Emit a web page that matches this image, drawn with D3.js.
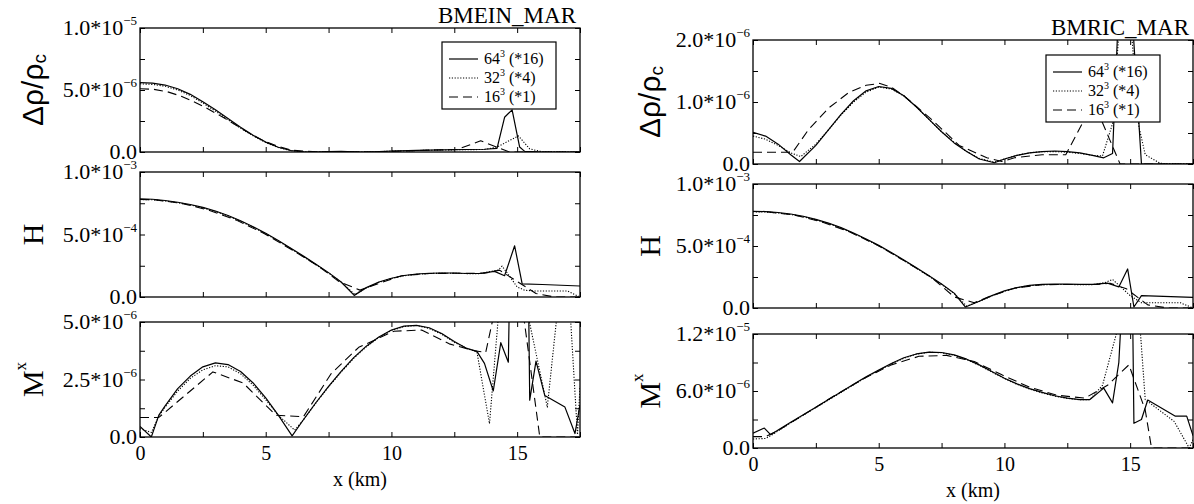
<!DOCTYPE html>
<html><head><meta charset="utf-8">
<script src="https://cdn.jsdelivr.net/npm/d3@7"></script>
<style>body{margin:0;background:#fff}svg{display:block}</style>
</head><body><svg id="c" width="1194" height="504"></svg>
<script>
// ---------------- DATA ----------------
const xDomain = [0, 17.5];
const xTickValues = [0, 5, 10, 15];
const xTickLabels = ["0", "5", "10", "15"];
const xMinorTicks = [0, 2.5, 5, 7.5, 10, 12.5, 15, 17.5];
const figureTitles = ["BMEIN_MAR", "BMRIC_MAR"];
const seriesBase = ["64", "32", "16"];
const seriesSuffix = [" (*16)", " (*4)", " (*1)"];

// y tick labels: [mantissa, exponent]
const drhoTicksL = [["0.0", ""], ["5.0*10", "\u22126"], ["1.0*10", "\u22125"]];
const drhoTickValsL = [0, 5e-6, 1e-5];
const hTicks = [["0.0", ""], ["5.0*10", "\u22124"], ["1.0*10", "\u22123"]];
const hTickVals = [0, 5e-4, 1e-3];
const mxTicksL = [["0.0", ""], ["2.5*10", "\u22126"], ["5.0*10", "\u22126"]];
const mxTickValsL = [0, 2.5e-6, 5e-6];
const drhoTicksR = [["0.0", ""], ["1.0*10", "\u22126"], ["2.0*10", "\u22126"]];
const drhoTickValsR = [0, 1e-6, 2e-6];
const mxTicksR = [["0.0", ""], ["6.0*10", "\u22126"], ["1.2*10", "\u22125"]];
const mxTickValsR = [0, 6e-6, 1.2e-5];

// BMEIN_MAR  drho (units 1e-6)
const bmein_drho_64 = [[0,5.6],[0.5,5.55],[1,5.4],[1.5,5.1],[2,4.65],[2.5,4.05],[3,3.4],[3.5,2.7],[4,2.0],[4.5,1.35],[5,0.8],[5.5,0.38],[6,0.12],[6.5,0.02],[7,0.0],[7.5,0.04],[8,0.05],[8.5,0.01],[9,0.0],[9.5,0.03],[10,0.08],[11,0.13],[12,0.17],[13,0.2],[13.7,0.22],[14.2,0.3],[14.5,2.8],[14.8,3.4],[15.1,0.4],[15.3,0.05],[16,0],[17.5,0]];
const bmein_drho_32 = [[0,5.5],[0.5,5.45],[1,5.3],[1.5,5.0],[2,4.55],[2.5,3.95],[3,3.3],[3.5,2.6],[4,1.92],[4.5,1.3],[5,0.76],[5.5,0.36],[6,0.11],[6.5,0.02],[7,0.0],[7.5,0.03],[8,0.04],[8.5,0.01],[9,0.0],[9.5,0.03],[10,0.07],[11,0.12],[12,0.16],[13,0.19],[13.7,0.2],[14.2,0.4],[15.05,1.3],[15.5,0.25],[16,0.02],[17.5,0]];
const bmein_drho_16 = [[0,5.1],[0.55,5.05],[1.1,4.85],[1.64,4.5],[2.2,4.0],[2.73,3.45],[3.3,2.8],[3.83,2.15],[4.4,1.45],[4.92,0.9],[5.5,0.45],[6.02,0.15],[7.11,0.0],[8.2,0.02],[9.3,0.0],[10.4,0.08],[11.5,0.15],[12.6,0.2],[13.55,0.9],[14.7,0.0],[15.9,0],[17.5,0]];

// BMEIN_MAR  H (units 1e-4)
const bmein_h_64 = [[0,7.85],[0.5,7.82],[1,7.72],[1.5,7.58],[2,7.4],[2.5,7.17],[3,6.88],[3.5,6.52],[4,6.1],[4.5,5.62],[5,5.1],[5.5,4.52],[6,3.9],[6.5,3.27],[7,2.62],[7.5,1.95],[8,1.2],[8.52,0.13],[9,0.75],[9.5,1.2],[10,1.5],[10.5,1.72],[11,1.84],[11.5,1.9],[12,1.92],[12.5,1.92],[13,1.88],[13.5,1.88],[14.1,2.05],[14.5,1.7],[14.9,4.1],[15.2,1.05],[16,1.0],[17.5,0.88]];
const bmein_h_32 = [[0,7.8],[0.5,7.78],[1,7.68],[1.5,7.54],[2,7.36],[2.5,7.13],[3,6.84],[3.5,6.48],[4,6.06],[4.5,5.58],[5,5.06],[5.5,4.48],[6,3.86],[6.5,3.23],[7,2.58],[7.5,1.92],[8,1.18],[8.55,0.2],[9,0.72],[9.5,1.17],[10,1.48],[10.5,1.7],[11,1.82],[11.5,1.88],[12,1.9],[12.5,1.9],[13,1.87],[13.5,1.87],[14.25,2.15],[14.4,2.47],[14.7,1.66],[15.0,0.8],[15.3,0.54],[15.7,0.48],[17.0,0.48],[17.45,0.05]];
const bmein_h_16 = [[0,7.8],[0.55,7.78],[1.64,7.5],[2.73,6.95],[3.83,6.15],[4.92,5.1],[6.02,3.8],[7.11,2.45],[7.9,1.25],[8.75,0.55],[9.3,0.95],[10.4,1.7],[11.5,1.88],[12.6,1.9],[13.7,1.9],[14.3,2.15],[15.75,0.28],[16.5,0],[17.5,0]];

// BMEIN_MAR  Mx (units 1e-6)
const bmein_mx_64 = [[0,0.46],[0.45,0.0],[0.75,0.95],[1,1.35],[1.5,2.1],[2,2.65],[2.5,3.05],[3,3.22],[3.5,3.15],[4,2.85],[4.5,2.35],[5,1.7],[5.5,0.95],[6.05,0.05],[6.5,0.75],[7,1.5],[7.5,2.2],[8,2.85],[8.5,3.45],[9,3.95],[9.5,4.35],[10,4.65],[10.5,4.82],[11,4.85],[11.5,4.75],[12,4.5],[12.5,4.15],[13,3.85],[13.4,3.72],[13.7,3.2],[14.05,2.0],[14.35,4.1],[14.65,3.25],[14.7,6.5],[15.45,6.5],[15.5,1.6],[15.75,3.3],[16.1,1.8],[16.9,1.3],[17.3,0.15],[17.5,1.4]];
const bmein_mx_32 = [[0,0.36],[0.45,0.2],[0.75,0.9],[1,1.3],[1.5,2.0],[2,2.55],[2.5,2.92],[3,3.1],[3.5,3.05],[4,2.75],[4.5,2.25],[5,1.62],[5.5,0.95],[6.15,0.3],[6.5,0.75],[7,1.48],[7.5,2.18],[8,2.82],[8.5,3.42],[9,3.92],[9.5,4.33],[10,4.63],[10.5,4.8],[11,4.85],[11.5,4.72],[12,4.47],[12.5,4.12],[13,3.85],[13.4,3.7],[13.9,0.58],[14.35,6.5],[15.2,6.5],[16.2,1.3],[16.7,6.5],[17.05,6.5],[17.4,0.1],[17.5,2.2]];
const bmein_mx_16 = [[0,0.85],[0.75,0.85],[2.9,2.83],[4.1,2.35],[5.4,0.95],[6.5,0.88],[7.6,2.75],[8.7,3.9],[10.1,4.6],[11.2,4.65],[12.3,4.05],[13.3,3.75],[13.75,3.68],[14.8,9.0],[15.9,0],[17.5,0]];

// BMRIC_MAR  drho (units 1e-6)
const bmric_drho_64 = [[0,0.51],[0.5,0.45],[1,0.32],[1.5,0.15],[1.85,0.04],[2.5,0.3],[3,0.55],[3.5,0.8],[4,1.02],[4.5,1.18],[5,1.25],[5.5,1.22],[6,1.1],[6.5,0.92],[7,0.72],[7.5,0.52],[8,0.34],[8.5,0.2],[9,0.08],[9.6,0.02],[10,0.08],[10.5,0.14],[11,0.18],[11.5,0.2],[12,0.21],[12.5,0.2],[13,0.18],[13.5,0.14],[13.95,0.1],[14.3,0.17],[14.55,2.6],[15.05,2.6],[15.45,0],[17.5,0]];
const bmric_drho_32 = [[0,0.45],[0.5,0.4],[1,0.3],[1.5,0.18],[1.9,0.12],[2.5,0.32],[3,0.55],[3.5,0.79],[4,1.0],[4.5,1.16],[5,1.24],[5.5,1.21],[6,1.1],[6.5,0.92],[7,0.72],[7.5,0.52],[8,0.35],[8.5,0.2],[9,0.09],[9.6,0.03],[10,0.08],[10.5,0.14],[11,0.18],[11.5,0.2],[12,0.2],[12.5,0.19],[13,0.17],[13.5,0.14],[13.9,0.13],[14.3,0.65],[14.6,2.4],[15.0,2.4],[15.35,0.6],[15.6,0.15],[16.2,0.01],[17.5,0]];
const bmric_drho_16 = [[0,0.19],[1.58,0.19],[2.2,0.55],[3.0,0.9],[3.8,1.15],[4.5,1.27],[5.05,1.3],[5.5,1.24],[6.0,1.1],[7.1,0.72],[8.2,0.3],[9.3,0.1],[9.9,0.04],[10.4,0.1],[11.5,0.15],[12.44,0.15],[13.55,1.0],[14.6,0.0],[17.5,0]];

// BMRIC_MAR  H (units 1e-4)
const bmric_h_64 = [[0,7.8],[0.5,7.78],[1,7.7],[1.5,7.58],[2,7.4],[2.5,7.15],[3,6.85],[3.5,6.48],[4,6.05],[4.5,5.57],[5,5.05],[5.5,4.48],[6,3.87],[6.5,3.24],[7,2.6],[7.5,1.93],[8,1.2],[8.45,0.08],[9,0.55],[9.5,1.0],[10,1.38],[10.5,1.65],[11,1.82],[11.5,1.9],[12,1.92],[12.5,1.92],[13,1.9],[13.5,1.9],[14.1,2.0],[14.55,1.7],[14.9,3.15],[15.15,0.08],[15.45,1.0],[17.5,0.86]];
const bmric_h_32 = [[0,7.76],[0.5,7.74],[1,7.66],[1.5,7.54],[2,7.36],[2.5,7.11],[3,6.81],[3.5,6.44],[4,6.01],[4.5,5.53],[5,5.01],[5.5,4.44],[6,3.83],[6.5,3.2],[7,2.56],[7.5,1.9],[8,1.17],[8.5,0.15],[9,0.53],[9.5,0.98],[10,1.36],[10.5,1.63],[11,1.8],[11.5,1.88],[12,1.9],[12.5,1.9],[13,1.88],[13.5,1.88],[14.0,2.05],[14.3,2.3],[14.6,1.75],[15.0,1.0],[15.45,0.42],[17.0,0.42],[17.5,0.0]];
const bmric_h_16 = [[0,7.78],[0.55,7.76],[1.64,7.5],[2.73,6.95],[3.83,6.15],[4.92,5.1],[6.02,3.8],[7.11,2.45],[8.0,0.9],[8.8,0.42],[9.3,0.85],[10.4,1.6],[11.5,1.88],[12.6,1.9],[13.7,1.9],[14.2,2.0],[14.85,1.55],[15.7,0.25],[16.5,0],[17.5,0]];

// BMRIC_MAR  Mx (units 1e-6)
const bmric_mx_64 = [[0,1.57],[0.45,2.1],[0.7,1.4],[1,1.9],[1.5,2.7],[2,3.5],[2.5,4.3],[3,5.1],[3.5,5.9],[4,6.7],[4.5,7.5],[5,8.2],[5.5,8.9],[6,9.5],[6.5,9.9],[7,10.1],[7.5,10.05],[8,9.8],[8.5,9.35],[9,8.75],[9.5,8.05],[10,7.35],[10.5,6.75],[11,6.25],[11.5,5.85],[12,5.5],[12.5,5.25],[13,5.1],[13.4,5.1],[13.95,6.3],[14.3,4.75],[14.55,9.0],[14.65,14],[15.1,14],[15.15,2.6],[15.45,3.0],[15.7,5.05],[16.8,3.35],[17.25,3.35],[17.5,1.3]];
const bmric_mx_32 = [[0,0.95],[0.5,1.0],[0.8,1.45],[1,1.8],[1.5,2.65],[2,3.45],[2.5,4.25],[3,5.05],[3.5,5.85],[4,6.65],[4.5,7.45],[5,8.15],[5.5,8.85],[6,9.45],[6.5,9.88],[7,10.08],[7.5,10.02],[8,9.76],[8.5,9.3],[9,8.7],[9.5,8.0],[10,7.3],[10.5,6.7],[11,6.2],[11.5,5.8],[12,5.46],[12.5,5.22],[13,5.08],[13.4,5.1],[13.9,6.6],[14.5,12.5],[15.4,12.5],[15.6,5.1],[16.75,2.8],[17.35,0],[17.5,0.9]];
const bmric_mx_16 = [[0,1.2],[0.5,1.2],[1.1,2.0],[2.2,3.8],[3.3,5.6],[4.4,7.3],[5.5,8.75],[6.6,9.65],[7.7,9.75],[8.8,9.1],[9.9,7.7],[11.0,6.4],[12.1,5.55],[13.2,5.25],[14.1,6.6],[14.95,8.75],[15.6,4.0],[15.85,0],[17.5,0]];

// ---------------- LAYOUT ----------------
const figs = [
  { title: figureTitles[0], L: 140, R: 580, legendTop: 42, legendRight: 24, titleOff: 108,
    panels: [
      { top: 28, bot: 152, ymax: 1e-5, unit: 1e-6, vals: drhoTickValsL, labels: drhoTicksL, minor: [2.5e-6, 7.5e-6], name: "drho", series: [bmein_drho_64, bmein_drho_32, bmein_drho_16] },
      { top: 172, bot: 297, ymax: 1e-3, unit: 1e-4, vals: hTickVals, labels: hTicks, minor: [2.5e-4, 7.5e-4], name: "H", series: [bmein_h_64, bmein_h_32, bmein_h_16] },
      { top: 322, bot: 437, ymax: 5e-6, unit: 1e-6, vals: mxTickValsL, labels: mxTicksL, minor: [1.25e-6, 3.75e-6], name: "M", series: [bmein_mx_64, bmein_mx_32, bmein_mx_16] }
    ] },
  { title: figureTitles[1], L: 753, R: 1193, legendTop: 55, legendRight: 33, titleOff: 104,
    panels: [
      { top: 40, bot: 164, ymax: 2e-6, unit: 1e-6, vals: drhoTickValsR, labels: drhoTicksR, minor: [0.5e-6, 1.5e-6], name: "drho", series: [bmric_drho_64, bmric_drho_32, bmric_drho_16] },
      { top: 184, bot: 308, ymax: 1e-3, unit: 1e-4, vals: hTickVals, labels: hTicks, minor: [2.5e-4, 7.5e-4], name: "H", series: [bmric_h_64, bmric_h_32, bmric_h_16] },
      { top: 334, bot: 448, ymax: 1.2e-5, unit: 1e-6, vals: mxTickValsR, labels: mxTicksR, minor: [3e-6, 9e-6], name: "M", series: [bmric_mx_64, bmric_mx_32, bmric_mx_16] }
    ] }
];
const dashes = [null, "1.2,1.6", "9,5"];
const widths = [1.2, 1.1, 1.1];
const SERIF = "'Liberation Serif','Times New Roman',serif";
const SANS = "'Liberation Sans',Arial,sans-serif";

const svg = d3.select("#c");
let clipId = 0;

figs.forEach(fig => {
  const x = d3.scaleLinear().domain(xDomain).range([fig.L, fig.R]);
  fig.panels.forEach((p, pi) => {
    const y = d3.scaleLinear().domain([0, p.ymax]).range([p.bot, p.top]);
    const g = svg.append("g");
    const id = "clip" + (clipId++);
    g.append("clipPath").attr("id", id).append("rect")
      .attr("x", fig.L).attr("y", p.top).attr("width", fig.R - fig.L).attr("height", p.bot - p.top);
    const line = d3.line().x(d => x(d[0])).y(d => y(d[1] * p.unit));
    const lg = g.append("g").attr("clip-path", `url(#${id})`);
    p.series.forEach((s, si) => {
      lg.append("path").datum(s).attr("d", line)
        .attr("fill", "none").attr("stroke", "#000")
        .attr("stroke-width", widths[si])
        .attr("stroke-dasharray", dashes[si])
        .attr("stroke-linejoin", "round");
    });
    // ticks
    const tk = (axis, tr) => g.append("g").attr("transform", tr).call(axis)
      .call(a => a.select(".domain").remove())
      .call(a => a.selectAll("line").attr("stroke", "#000").attr("stroke-width", 1));
    tk(d3.axisBottom(x).tickValues(xMinorTicks).tickSize(-5).tickFormat(""), `translate(0,${p.bot})`);
    tk(d3.axisTop(x).tickValues(xMinorTicks).tickSize(-5).tickFormat(""), `translate(0,${p.top})`);
    const yt = p.vals.concat(p.minor);
    tk(d3.axisLeft(y).tickValues(yt).tickSize(-5).tickFormat(""), `translate(${fig.L},0)`);
    tk(d3.axisRight(y).tickValues(yt).tickSize(-5).tickFormat(""), `translate(${fig.R},0)`);
    // frame
    g.append("rect").attr("x", fig.L).attr("y", p.top).attr("width", fig.R - fig.L).attr("height", p.bot - p.top)
      .attr("fill", "none").attr("stroke", "#000").attr("stroke-width", 1.3);
    // y tick labels
    p.vals.forEach((v, i) => {
      const t = g.append("text").attr("x", fig.L - 3).attr("y", y(v) + 7)
        .attr("text-anchor", "end").attr("font-family", SERIF).attr("font-size", 22);
      t.append("tspan").text(p.labels[i][0]);
      if (p.labels[i][1]) t.append("tspan").attr("dy", -10).attr("font-size", 13).text(p.labels[i][1]);
    });
    // y axis title
    const cy = (p.top + p.bot) / 2, tx = fig.L - fig.titleOff;
    const tt = g.append("text").attr("transform", `translate(${tx},${cy}) rotate(-90)`)
      .attr("text-anchor", "middle").attr("dominant-baseline", "central");
    if (p.name === "drho") {
      tt.attr("font-family", SANS).attr("font-size", 30);
      tt.append("tspan").text("\u0394\u03c1/\u03c1");
      tt.append("tspan").attr("font-size", 19).attr("dy", 7).text("c");
    } else if (p.name === "H") {
      tt.attr("font-family", SERIF).attr("font-size", 30).text("H");
    } else {
      tt.attr("font-family", SERIF).attr("font-size", 30);
      tt.append("tspan").text("M");
      tt.append("tspan").attr("font-size", 17).attr("dy", -12).text("x");
    }
    if (pi === 2) {
      g.append("g").attr("transform", `translate(0,${p.bot})`)
        .call(d3.axisBottom(x).tickValues(xTickValues).tickSize(0).tickPadding(9)
          .tickFormat((d, i) => xTickLabels[i]))
        .call(a => a.select(".domain").remove())
        .call(a => a.selectAll("text").attr("font-family", SERIF).attr("font-size", 20).attr("fill", "#000"));
      g.append("text").attr("x", (fig.L + fig.R) / 2).attr("y", p.bot + 49)
        .attr("text-anchor", "middle").attr("font-family", SERIF).attr("font-size", 20).text("x (km)");
    }
    if (pi === 0) {
      g.append("text").attr("x", fig.R - 4).attr("y", p.top - 5).attr("text-anchor", "end")
        .attr("font-family", SERIF).attr("font-size", 23).text(fig.title);
      // legend
      const lw = 114, lh = 67, lx = fig.R - fig.legendRight - lw, ly = fig.legendTop;
      const lgd = g.append("g");
      lgd.append("rect").attr("x", lx).attr("y", ly).attr("width", lw).attr("height", lh)
        .attr("fill", "#fff").attr("stroke", "#000").attr("stroke-width", 1.2);
      seriesBase.forEach((b, i) => {
        const ry = ly + 17 + i * 19;
        lgd.append("line").attr("x1", lx + 7).attr("x2", lx + 36).attr("y1", ry).attr("y2", ry)
          .attr("stroke", "#000").attr("stroke-width", widths[i]).attr("stroke-dasharray", dashes[i]);
        const t = lgd.append("text").attr("x", lx + 42).attr("y", ry + 5)
          .attr("font-family", SERIF).attr("font-size", 16);
        t.append("tspan").text(b);
        t.append("tspan").attr("dy", -7).attr("font-size", 10).text("3");
        t.append("tspan").attr("dy", 7).text(seriesSuffix[i]);
      });
    }
  });
});
</script>
</body></html>
